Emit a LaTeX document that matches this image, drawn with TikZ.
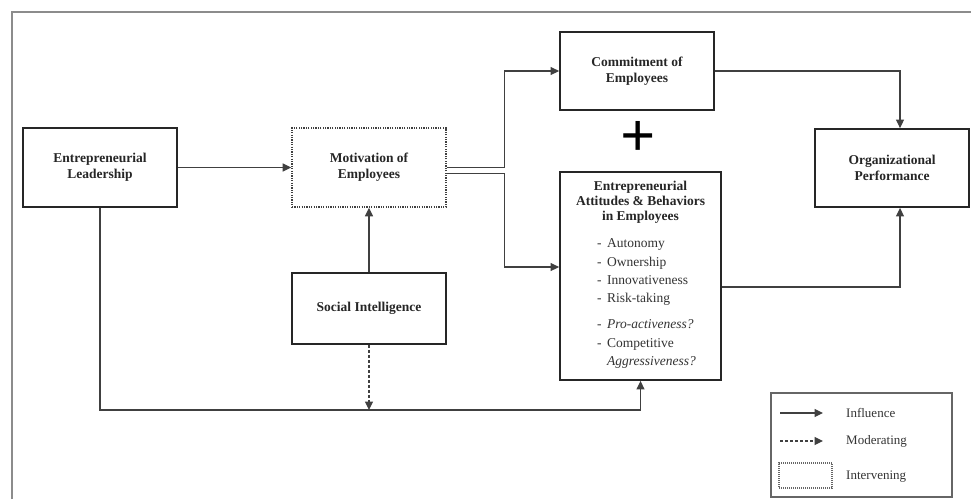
\documentclass[tikz,border=0pt]{standalone}
\usepackage{fontspec}
\setmainfont{Liberation Serif}
\usetikzlibrary{arrows.meta,calc}

\begin{document}
\begin{tikzpicture}[x=1pt,y=-1pt,
		box/.style={draw=black!85, line width=1.8pt, fill=white, align=center,
			inner sep=0pt, text=black!85, font=\bfseries\fontsize{13.5}{16}\selectfont},
		dotbox/.style={box, draw=black!75, dash pattern=on 1.2pt off 1.2pt, line width=1.6pt},
		infl/.style={draw=black!75, line width=1.2pt, -{Triangle[length=8.5pt,width=8pt]}},
		moder/.style={infl, dash pattern=on 3pt off 2pt},
		item/.style={anchor=base west, inner sep=0pt, text=black!80, font=\fontsize{13.5}{16}\selectfont},
		legtext/.style={anchor=west, inner sep=0pt, text=black!80, font=\fontsize{13}{15}\selectfont}]
		\useasboundingbox (0,0) rectangle (971,499);
		\draw[black!45, line width=2.5pt] (12,499) -- (12,12) -- (971,12);

		% boxes
		\node[box, minimum width=154pt, minimum height=79pt] (lead) at (100,167.5) {Entrepreneurial\\Leadership};
		\node[dotbox, minimum width=154pt, minimum height=79pt] (motiv) at (369,167.5) {Motivation of\\Employees};
		\node[box, minimum width=154pt, minimum height=78pt] (commit) at (637,71) {Commitment of\\Employees};
		\node[box, minimum width=161pt, minimum height=208pt] (attit) at (640.5,276) {};
		\node[box, minimum width=154pt, minimum height=78pt] (orgp) at (892,168) {Organizational\\Performance};
		\node[box, minimum width=154pt, minimum height=71pt] (social) at (369,308.5) {Social Intelligence};
		\node[text=black, inner sep=0pt, font=\bfseries\fontsize{62}{62}\selectfont] (plus) at (638,139) {+};

		% inside the attitudes box
		\node[anchor=north, inner sep=0pt, align=center, text=black!85,
			font=\bfseries\fontsize{13.5}{15}\selectfont] (attitle) at ($(attit.north)+(0,10)$)
			{Entrepreneurial\\Attitudes \& Behaviors\\in Employees};
		\foreach \yy/\txt [count=\i] in {247/Autonomy, 266/Ownership, 284/Innovativeness,
				302/Risk-taking, 328/\textit{Pro-activeness?}, 347/Competitive} {
			\node[item] (dash\i) at (597,\yy) {-};
			\node[item] (itm\i) at (607,\yy) {\txt};
		}
		\node[item] (itm7) at (607,365) {\textit{Aggressiveness?}};

		% connectors
		\coordinate (jn) at (social.south |- 0,410);
		\draw[infl] (lead) -- (motiv);
		\draw[infl] (motiv.east) -- ++(58,0) |- (commit.west);
		\draw[infl] ($(motiv.east)+(0,6)$) -- ++(58,0) |- ($(attit.west)+(0,-9)$);
		\draw[infl] (commit.east) -| ($(orgp.north)+(8,0)$);
		\draw[infl] ($(attit.east)+(0,11)$) -| ($(orgp.south)+(8,0)$);
		\draw[infl] (social) -- (motiv);
		\draw[infl] (lead.south) |- (jn) -| (attit.south);
		\draw[moder] (social.south) -- (jn);

		% legend
		\node[draw=black!60, line width=1.5pt, minimum width=181pt, minimum height=104pt] (legend) at (861.5,445) {};
		\coordinate (inflA) at (780,413);
		\coordinate (inflB) at (823,413);
		\coordinate (modA) at (780,441);
		\coordinate (modB) at (823,441);
		\draw[infl] (inflA) -- (inflB);
		\draw[moder] (modA) -- (modB);
		\node[draw=black!60, dash pattern=on 1pt off 1pt, line width=1.2pt,
			minimum width=53pt, minimum height=25pt] (intbox) at (805.5,475.5) {};
		\node[legtext] (infltxt) at (846,413) {Influence};
		\node[legtext] (modtxt) at (846,441) {Moderating};
		\node[legtext] (inttxt) at (846,477) {Intervening};
\end{tikzpicture}
\end{document}
